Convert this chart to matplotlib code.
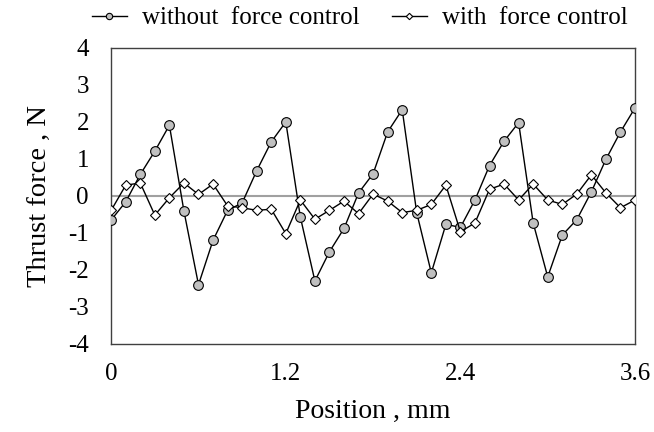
import numpy as np
import matplotlib.pyplot as plt

plt.rcParams['font.family'] = ['Liberation Serif', 'DejaVu Serif']
plt.rcParams['axes.unicode_minus'] = False

position = np.round(np.arange(0, 37) * 0.1, 1)

without_force = [-0.65, -0.16, 0.58, 1.21, 1.91, -0.41, -2.40, -1.20, -0.39, -0.19,
                 0.68, 1.46, 2.00, -0.57, -2.30, -1.51, -0.88, 0.08, 0.60, 1.73,
                 2.33, -0.46, -2.08, -0.77, -0.85, -0.11, 0.82, 1.48, 1.98, -0.73,
                 -2.19, -1.06, -0.64, 0.11, 0.99, 1.73, 2.38]

with_force = [-0.39, 0.29, 0.35, -0.52, -0.05, 0.35, 0.04, 0.32, -0.27, -0.32,
              -0.39, -0.36, -1.02, -0.11, -0.63, -0.39, -0.14, -0.48, 0.05, -0.14,
              -0.45, -0.39, -0.23, 0.29, -0.97, -0.73, 0.18, 0.32, -0.11, 0.32,
              -0.11, -0.23, 0.05, 0.57, 0.08, -0.32, -0.11]

xticks = [0, 1.2, 2.4, 3.6]
yticks = [-4, -3, -2, -1, 0, 1, 2, 3, 4]

fig = plt.figure(figsize=(6.54, 4.32), dpi=100)
ax = fig.add_axes([0.170, 0.204, 0.801, 0.685])

ax.axhline(0, color='#a0a0a0', lw=1.5, zorder=1)
ax.plot(position, without_force, color='black', lw=1, marker='o', ms=7,
        mfc='#c0c0c0', mec='black', mew=0.8, label='without  force control', zorder=3)
ax.plot(position, with_force, color='black', lw=1, marker='D', ms=5,
        mfc='white', mec='black', mew=0.8, label='with  force control', zorder=3)

ax.set_xlim(0, 3.6)
ax.set_ylim(-4, 4)
ax.set_xticks(xticks)
ax.set_xticklabels(['0', '1.2', '2.4', '3.6'])
ax.set_yticks(yticks)
ax.tick_params(length=0, labelsize=18)
ax.tick_params(axis='x', pad=14)
ax.tick_params(axis='y', pad=16)
for s in ax.spines.values():
    s.set_color('#404040')
    s.set_linewidth(1)

ax.set_xlabel('Position , mm', fontsize=20, labelpad=10)
ax.set_ylabel('Thrust force , N', fontsize=20.5, labelpad=12)

fig.legend(*ax.get_legend_handles_labels(), loc='center',
           bbox_to_anchor=(0.55, 1 - 18 / 432), ncol=2, frameon=False,
           fontsize=18, handlelength=1.4, columnspacing=1.3, handletextpad=0.6,
           borderpad=0, markerscale=0.65)

fig.savefig('out.png', dpi=100)
